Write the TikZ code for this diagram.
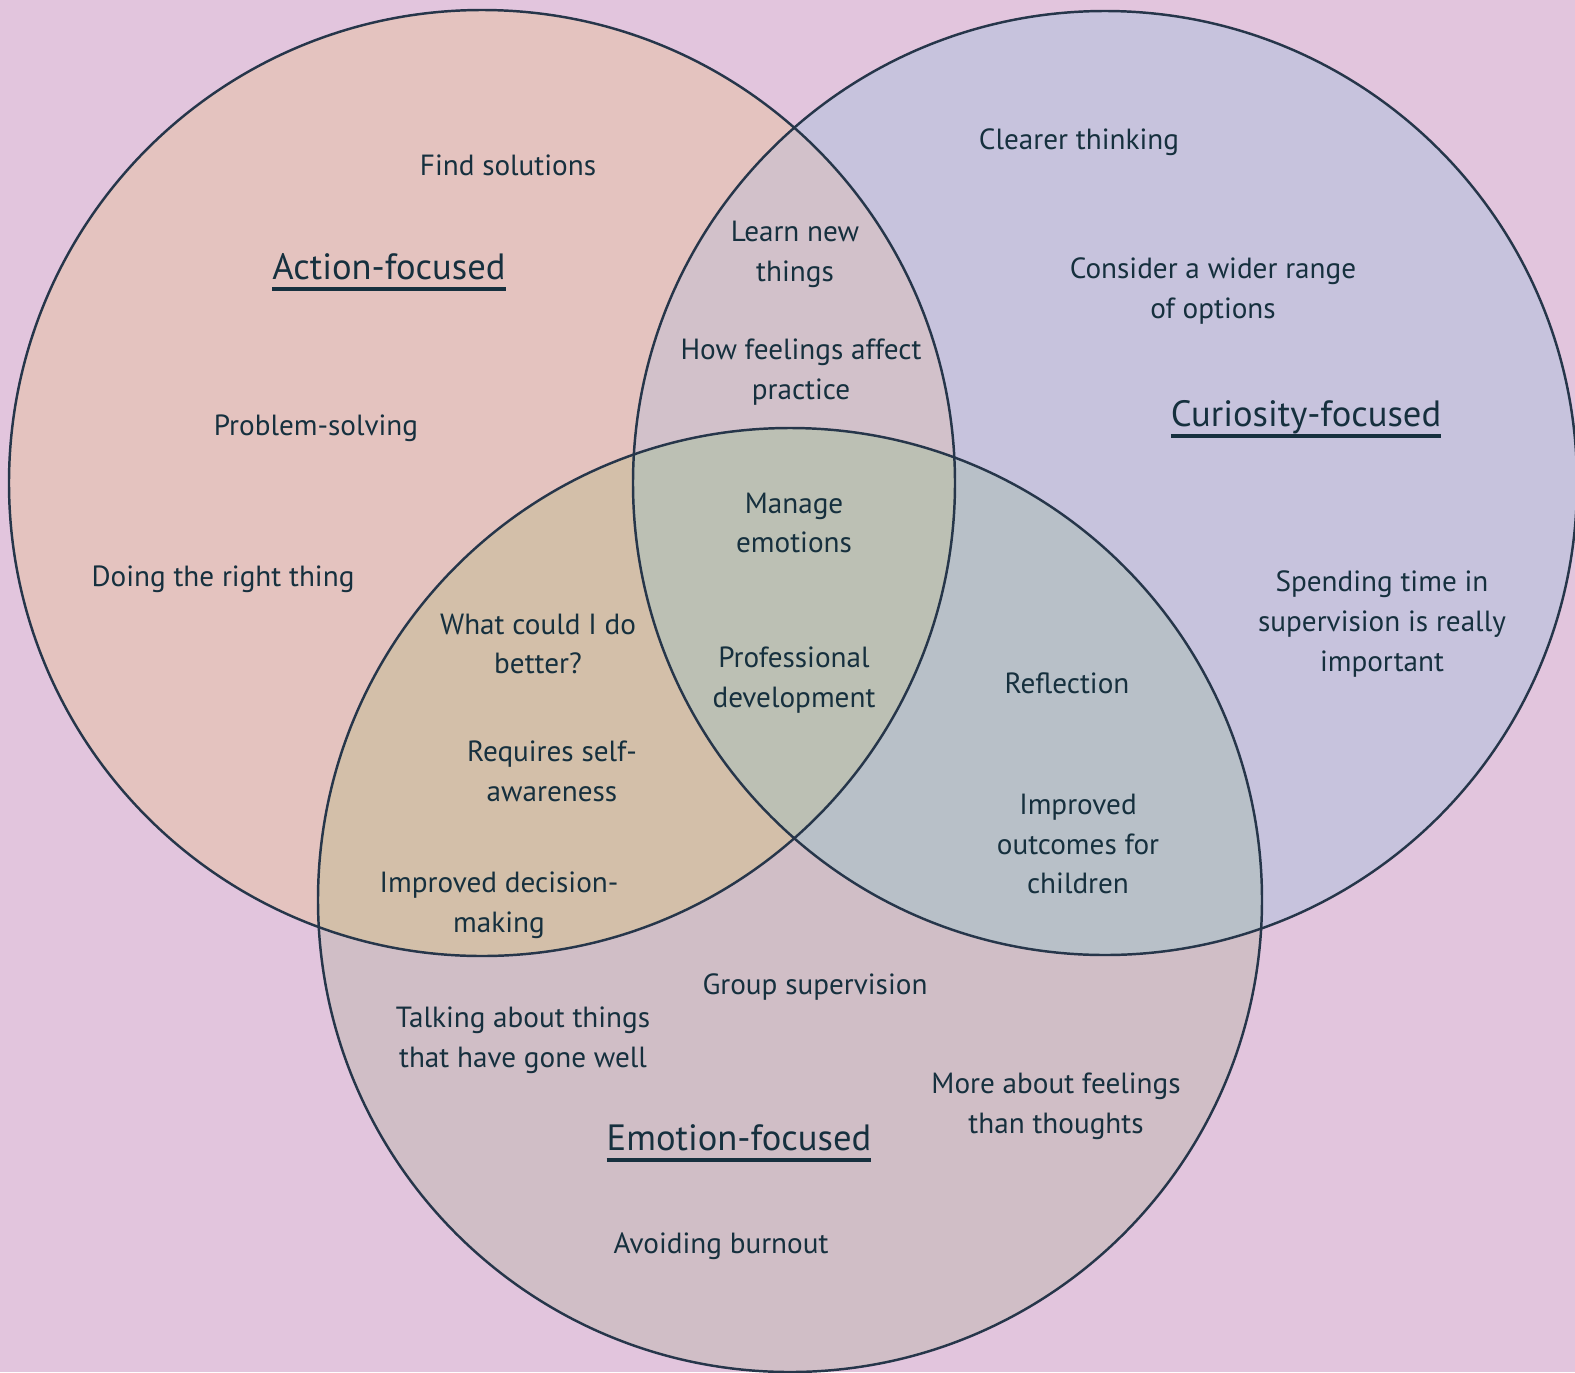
\documentclass[tikz,border=0pt]{standalone}
\usepackage{fontspec}
\setmainfont{PT Sans}

\definecolor{bgPink}{HTML}{E2C5DD}
\definecolor{actFill}{HTML}{E4C3BF}
\definecolor{curFill}{HTML}{C7C3DD}
\definecolor{emoFill}{HTML}{D0BEC6}
\definecolor{actEmoFill}{HTML}{D3BFA9}
\definecolor{actCurFill}{HTML}{D2C1CA}
\definecolor{curEmoFill}{HTML}{B8C0C8}
\definecolor{allFill}{HTML}{BCC0B4}
\definecolor{ringLine}{HTML}{26364A}
\definecolor{labelInk}{HTML}{16303E}

\newcommand{\headunder}[1]{\setbox0\hbox{#1}\rlap{\raisebox{-3.2pt}{\rule{\wd0}{0.9pt}}}\box0}

\tikzset{
	ring/.style={draw=ringLine, line width=0.7pt},
	item/.style={text=labelInk, align=center, inner sep=0pt, font=\fontsize{8.3}{11.3}\selectfont},
	heading/.style={text=labelInk, inner sep=0pt, font=\fontsize{10.4}{13}\selectfont}
}

\begin{document}
\begin{tikzpicture}[x=0.01cm, y=-0.01cm]

	%Background
	\fill[bgPink] (0,0) rectangle (1575,1372);
	\useasboundingbox (0,0) rectangle (1575,1372);

	%Circle centres
	\coordinate (actC) at (482,483);
	\coordinate (curC) at (1105,483);
	\coordinate (emoC) at (790,900);

	%Single regions
	\fill[actFill] (actC) circle [radius=473];
	\fill[curFill] (curC) circle [radius=472];
	\fill[emoFill] (emoC) circle [radius=472];

	%Overlaps of two
	\begin{scope}
		\clip (actC) circle [radius=473];
		\fill[actCurFill] (curC) circle [radius=472];
		\fill[actEmoFill] (emoC) circle [radius=472];
	\end{scope}
	\begin{scope}
		\clip (curC) circle [radius=472];
		\fill[curEmoFill] (emoC) circle [radius=472];
	\end{scope}

	%Overlap of all three
	\begin{scope}
		\clip (actC) circle [radius=473];
		\clip (curC) circle [radius=472];
		\fill[allFill] (emoC) circle [radius=472];
	\end{scope}

	%Outlines
	\draw[ring] (actC) circle [radius=473];
	\draw[ring] (curC) circle [radius=472];
	\draw[ring] (emoC) circle [radius=472];

	%Action-focused
	\node (actTitle) at (389,272) [heading]{\headunder{Action-focused}};
	\node (findSol) at (508,165) [item]{Find solutions};
	\node (probSolv) at (316,428) [item]{Problem-solving};
	\node (rightThing) at (223,579) [item]{Doing the right thing};

	%Curiosity-focused
	\node (curTitle) at (1306,419) [heading]{\headunder{Curiosity-focused}};
	\node (clearThink) at (1079,142) [item]{Clearer thinking};
	\node (widerRange) at (1213,291) [item]{Consider a wider range\\of options};
	\node (spendTime) at (1382,624) [item]{Spending time in\\supervision is really\\important};

	%Emotion-focused
	\node (emoTitle) at (739,1143) [heading]{\headunder{Emotion-focused}};
	\node (groupSup) at (815,987) [item]{Group supervision};
	\node (goneWell) at (523,1040) [item]{Talking about things\\that have gone well};
	\node (moreFeel) at (1056,1106) [item]{More about feelings\\than thoughts};
	\node (burnout) at (721,1246) [item]{Avoiding burnout};

	%Action and curiosity
	\node (learnNew) at (795,254) [item]{Learn new\\things};
	\node (feelPrac) at (801,372) [item]{How feelings affect\\practice};

	%Action and emotion
	\node (doBetter) at (538,644) [item]{What could I do\\better?};
	\node (selfAware) at (552,771) [item]{Requires self-\\awareness};
	\node (decision) at (499,905) [item]{Improved decision-\\making};

	%Curiosity and emotion
	\node (reflect) at (1067,683) [item]{Reflection};
	\node (outcomes) at (1078,844) [item]{Improved\\outcomes for\\children};

	%All three
	\node (manageEmo) at (794,523) [item]{Manage\\emotions};
	\node (profDev) at (794,680) [item]{Professional\\development};

\end{tikzpicture}
\end{document}
